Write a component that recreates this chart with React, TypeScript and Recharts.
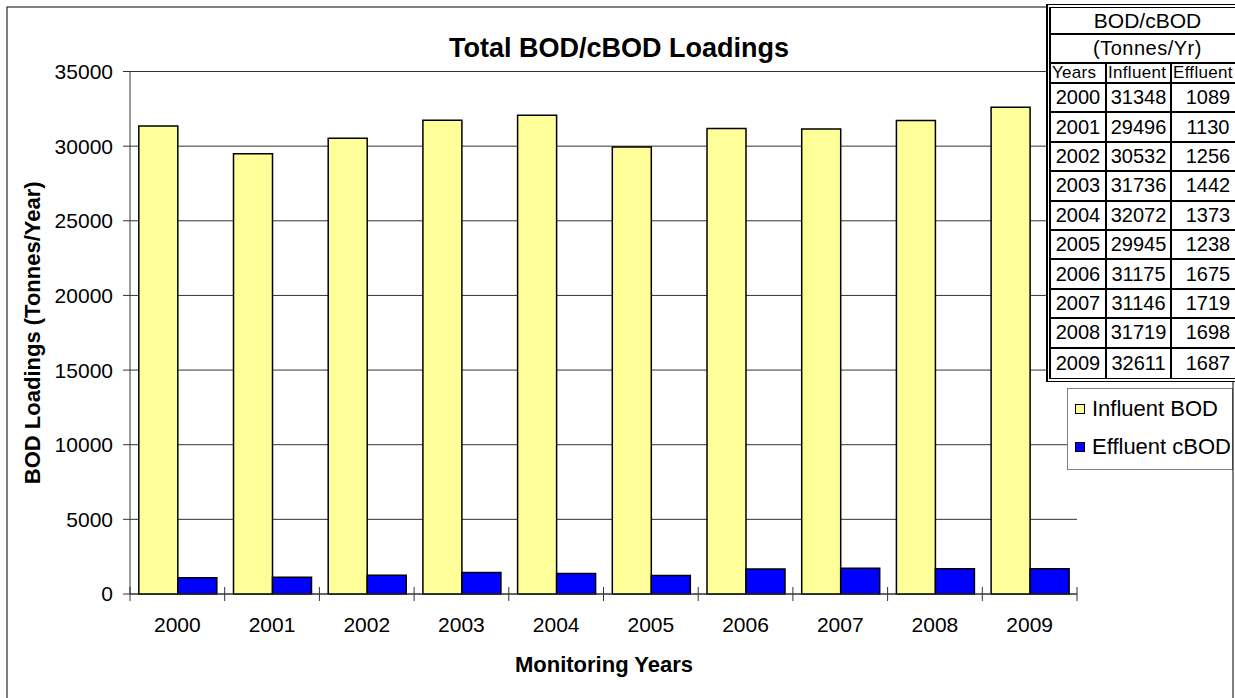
import React from 'react';
import { BarChart, Bar, XAxis, YAxis, CartesianGrid, Legend } from 'recharts';

// ---------- data ----------
const years = ['2000', '2001', '2002', '2003', '2004', '2005', '2006', '2007', '2008', '2009'];
const influentBOD = [31348, 29496, 30532, 31736, 32072, 29945, 31175, 31146, 31719, 32611];
const effluentCBOD = [1089, 1130, 1256, 1442, 1373, 1238, 1675, 1719, 1698, 1687];
const yTicks = [0, 5000, 10000, 15000, 20000, 25000, 30000, 35000];
const seriesNames = ['Influent BOD', 'Effluent cBOD'];
const seriesColors = ['#FFFF99', '#0000FF'];
const chartTitle = 'Total BOD/cBOD Loadings';
const xTitle = 'Monitoring Years';
const yTitle = 'BOD Loadings (Tonnes/Year)';
const tableTitle = 'BOD/cBOD';
const tableUnit = '(Tonnes/Yr)';
const tableHeaders = ['Years', 'Influent', 'Effluent'];

const data = years.map((y, i) => ({ year: y, influent: influentBOD[i], effluent: effluentCBOD[i] }));

// ---------- layout ----------
const W = 1235;
const H = 698;
const PLOT_LEFT = 130;
const PLOT_TOP = 71.5;
const PLOT_RIGHT = 1077;
const PLOT_BOTTOM = 594;
const X_AXIS_H = 30;
const FONT = '"Liberation Sans", Arial, Helvetica, sans-serif';
const AXIS_COLOR = '#333';

const XTick = (props: any) => {
  const { x, y, payload, index } = props;
  const band = (PLOT_RIGHT - PLOT_LEFT) / years.length;
  const left = x - band / 2;
  const right = x + band / 2;
  return (
    <g>
      <line x1={left} x2={left} y1={y - 7} y2={y + 7} stroke={AXIS_COLOR} strokeWidth={1} />
      {index === years.length - 1 && (
        <line x1={right} x2={right} y1={y - 7} y2={y + 7} stroke={AXIS_COLOR} strokeWidth={1} />
      )}
      <text x={x} y={y + 38} textAnchor="middle" fontSize={21} fill="#000" fontFamily={FONT}>
        {payload.value}
      </text>
    </g>
  );
};

const renderLegend = (props: any) => {
  const payload = [...(props.payload || [])].sort(
    (a: any, b: any) => seriesNames.indexOf(a.value) - seriesNames.indexOf(b.value)
  );
  return (
    <div style={{ paddingTop: 1, paddingLeft: 7 }}>
      {payload.map((entry: any, i: number) => (
        <div key={i} style={{ display: 'flex', alignItems: 'center', height: 38 }}>
          <span
            style={{
              display: 'inline-block',
              width: 10,
              height: 10,
              boxSizing: 'border-box',
              border: '1px solid #000',
              background: entry.color,
              marginRight: 7,
            }}
          />
          <span style={{ fontSize: 22, color: '#000', fontFamily: FONT, whiteSpace: 'nowrap' }}>{entry.value}</span>
        </div>
      ))}
    </div>
  );
};

const COL_W = [56, 65, 72];
const HEAD_H = [27, 29, 20];
const ROW_H = 29.4;
const LINE = '2px solid #000';

const cellBase: React.CSSProperties = {
  boxSizing: 'border-box',
  display: 'flex',
  alignItems: 'center',
  justifyContent: 'center',
  color: '#000',
  fontFamily: FONT,
  whiteSpace: 'nowrap',
  overflow: 'hidden',
};

const DataTable = () => {
  const rows = years.map((y, i) => [y, String(influentBOD[i]), String(effluentCBOD[i])]);
  return (
    <div
      style={{
        position: 'absolute',
        left: 1046,
        top: 4,
        width: 200,
        boxSizing: 'border-box',
        borderTop: '4px double #000',
        borderLeft: '5px double #000',
        borderBottom: '4px double #000',
        background: '#fff',
      }}
    >
      <div style={{ ...cellBase, height: HEAD_H[0], borderBottom: LINE, fontSize: 21, width: COL_W[0] + COL_W[1] + COL_W[2] }}>
        {tableTitle}
      </div>
      <div style={{ ...cellBase, height: HEAD_H[1], borderBottom: LINE, fontSize: 20, letterSpacing: 0.5, width: COL_W[0] + COL_W[1] + COL_W[2] }}>
        {tableUnit}
      </div>
      <div style={{ display: 'flex' }}>
        {tableHeaders.map((h, c) => (
          <div
            key={c}
            style={{
              ...cellBase,
              justifyContent: 'flex-start',
              paddingLeft: 1,
              width: COL_W[c],
              height: HEAD_H[2],
              borderBottom: LINE,
              borderRight: c < 2 ? LINE : 'none',
              fontSize: 17,
              letterSpacing: 0.3,
            }}
          >
            {h}
          </div>
        ))}
      </div>
      {rows.map((r, ri) => (
        <div key={ri} style={{ display: 'flex' }}>
          {r.map((v, c) => (
            <div
              key={c}
              style={{
                ...cellBase,
                width: COL_W[c],
                height: ROW_H,
                borderBottom: ri < rows.length - 1 ? LINE : 'none',
                borderRight: c < 2 ? LINE : 'none',
                fontSize: 20,
              }}
            >
              {v}
            </div>
          ))}
        </div>
      ))}
    </div>
  );
};

export default function App() {
  return (
    <div
      style={{
        position: 'absolute',
        left: 0,
        top: 0,
        width: W,
        height: H,
        overflow: 'hidden',
        background: '#fff',
        fontFamily: FONT,
      }}
    >
      <BarChart
        width={W}
        height={H}
        data={data}
        margin={{ top: PLOT_TOP, right: W - PLOT_RIGHT, bottom: H - PLOT_BOTTOM - X_AXIS_H, left: 0 }}
        barCategoryGap="9.3%"
        barGap={0}
      >
        <CartesianGrid vertical={false} stroke={AXIS_COLOR} strokeWidth={1} />
        <XAxis
          dataKey="year"
          height={X_AXIS_H}
          interval={0}
          tickLine={false}
          tickSize={0}
          tickMargin={0}
          axisLine={{ stroke: AXIS_COLOR, strokeWidth: 1 }}
          tick={<XTick />}
        />
        <YAxis
          width={PLOT_LEFT}
          domain={[0, 35000]}
          ticks={yTicks}
          interval={0}
          tickSize={7}
          tickMargin={10}
          axisLine={{ stroke: AXIS_COLOR, strokeWidth: 1 }}
          tickLine={{ stroke: AXIS_COLOR, strokeWidth: 1 }}
          tick={{ fontSize: 21, fill: '#000', fontFamily: FONT }}
        />
        <Legend
          layout="vertical"
          align="center"
          verticalAlign="middle"
          content={renderLegend}
          wrapperStyle={{
            position: 'absolute',
            left: 1067,
            top: 388,
            width: 166,
            height: 82,
            boxSizing: 'border-box',
            border: '1px solid #808080',
            background: '#fff',
          }}
        />
        <Bar
          dataKey="influent"
          name={seriesNames[0]}
          fill={seriesColors[0]}
          stroke="#000"
          strokeWidth={1.5}
          isAnimationActive={false}
        />
        <Bar
          dataKey="effluent"
          name={seriesNames[1]}
          fill={seriesColors[1]}
          stroke="#000"
          strokeWidth={1.5}
          isAnimationActive={false}
        />
      </BarChart>

      <svg
        width={W}
        height={H}
        style={{ position: 'absolute', left: 0, top: 0, pointerEvents: 'none' }}
      >
        <rect x={7} y={7} width={1226} height={720} fill="none" stroke="#000" strokeWidth={1} />
        <text x={619} y={57} textAnchor="middle" fontSize={27} fontWeight="bold" fill="#000" fontFamily={FONT}>
          {chartTitle}
        </text>
        <text x={604} y={672} textAnchor="middle" fontSize={22} fontWeight="bold" fill="#000" fontFamily={FONT}>
          {xTitle}
        </text>
        <text
          x={0}
          y={0}
          transform={`translate(40, ${(PLOT_TOP + PLOT_BOTTOM) / 2}) rotate(-90)`}
          textAnchor="middle"
          fontSize={22}
          fontWeight="bold"
          fill="#000"
          fontFamily={FONT}
        >
          {yTitle}
        </text>
      </svg>

      <DataTable />
    </div>
  );
}
